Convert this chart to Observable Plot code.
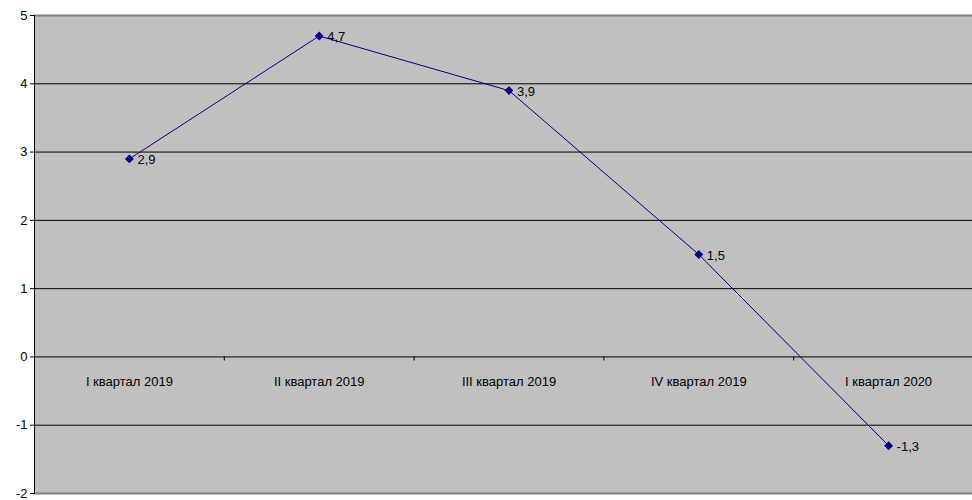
<!DOCTYPE html>
<html><head><meta charset="utf-8">
<script src="https://cdn.jsdelivr.net/npm/d3@7"></script>
<script src="https://cdn.jsdelivr.net/npm/@observablehq/plot@0.6"></script>
<style>
body{margin:0;background:#fff;}
svg{font-family:"Liberation Sans",Arial,sans-serif;}
</style></head><body>
<div id="chart"></div>
<script>
const categories = ["I квартал 2019","II квартал 2019","III квартал 2019","IV квартал 2019","I квартал 2020"];
const values = [2.9, 4.7, 3.9, 1.5, -1.3];
const yTicks = [-2,-1,0,1,2,3,4,5];

const data = categories.map((c,i)=>({i: i+0.5, c, v: values[i]}));
const fmt = v => String(v).replace(".", ",");

const chart = Plot.plot({
  width: 972, height: 500,
  marginLeft: 34, marginRight: 0, marginTop: 15, marginBottom: 7,
  style: {fontFamily: '"Liberation Sans",Arial,sans-serif', fontSize: "13px", background: "#fff", overflow: "hidden"},
  x: {type: "linear", domain: [0, 5], range: [34, 983], axis: null},
  y: {domain: [-2, 5], range: [493, 15], ticks: yTicks, tickSize: 4, tickPadding: 3, tickFormat: d => String(d), label: null},
  marks: [
    Plot.frame({fill: "#c0c0c0"}),
    Plot.ruleY(yTicks.filter(d => d > -2 && d < 5), {stroke: "#000", strokeWidth: 1}),
    Plot.ruleY([5, -2], {stroke: "#808080", strokeWidth: 2}),
    Plot.ruleX([1,2,3,4], {y1: 0, y2: -0.06, stroke: "#000"}),
    Plot.frame({anchor: "left", stroke: "#000"}),
    Plot.axisY({ticks: yTicks, tickSize: 4, tickPadding: 3, fontSize: 13, fill: "#000", tickFormat: d => String(d)}),
    Plot.text(data, {x: "i", y: () => 0, text: "c", dy: 25, fontSize: 13, fill: "#000"}),
    Plot.line(data, {x: "i", y: "v", stroke: "#000080", strokeWidth: 1}),
    Plot.dot(data, {x: "i", y: "v", symbol: "diamond2", r: 4, fill: "#000080", stroke: "none"}),
    Plot.text(data, {x: "i", y: "v", text: d => fmt(d.v), dx: 8, dy: 1, textAnchor: "start", fontSize: 13, fill: "#000"})
  ]
});
document.getElementById("chart").append(chart);
</script></body></html>
